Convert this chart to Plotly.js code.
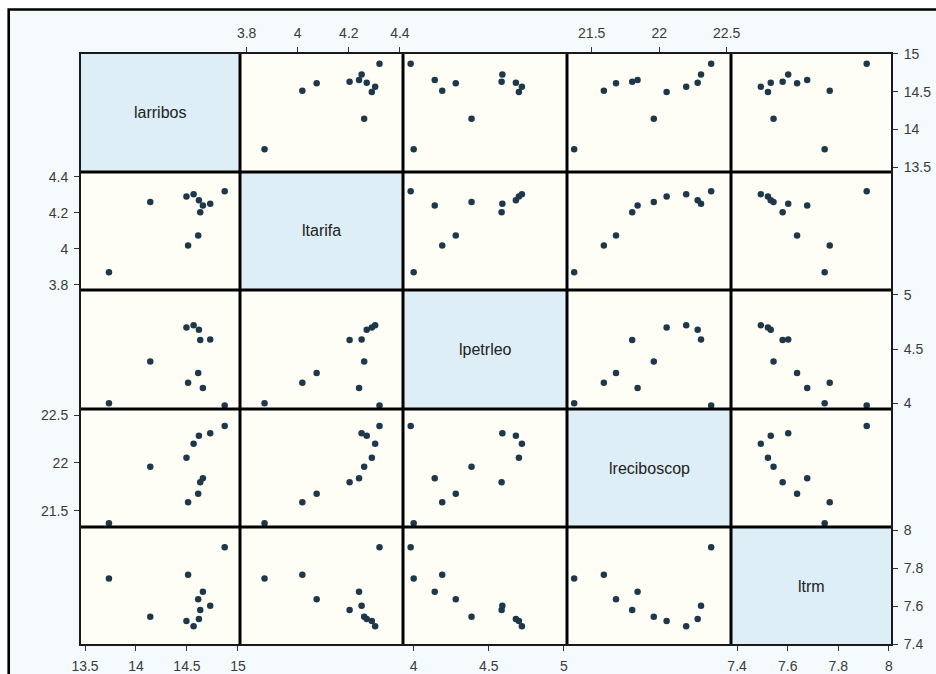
<!DOCTYPE html>
<html><head><meta charset="utf-8">
<script src="https://cdn.plot.ly/plotly-3.0.1.min.js"></script>
<style>html,body{margin:0;padding:0;background:#fff;} #chart{width:936px;height:674px;}</style>
</head><body><div id="chart"></div>
<script>
// Variable names (diagonal labels)
const varNames = ['larribos', 'ltarifa', 'lpetrleo', 'lreciboscop', 'ltrm'];

const larribos    = [13.735, 14.511, 14.610, 14.630, 14.656, 14.140, 14.495, 14.565, 14.617, 14.728, 14.870];
const ltarifa     = [3.870, 4.018, 4.074, 4.203, 4.240, 4.260, 4.290, 4.303, 4.270, 4.250, 4.320];
const lpetrleo    = [4.000, 4.190, 4.280, 4.585, 4.140, 4.385, 4.700, 4.720, 4.680, 4.590, 3.980];
const lreciboscop = [21.370, 21.590, 21.680, 21.800, 21.840, 21.960, 22.055, 22.200, 22.285, 22.310, 22.385];
const ltrm        = [7.746, 7.766, 7.637, 7.580, 7.677, 7.544, 7.522, 7.494, 7.533, 7.602, 7.912];

// Tick values per variable
const ticksLarribos = [13.5, 14, 14.5, 15];
const ticksLtarifa  = [3.8, 4, 4.2, 4.4];
const ticksLpetrleo = [4, 4.5, 5];
const ticksLrecib   = [21.5, 22, 22.5];
const ticksLtrm     = [7.4, 7.6, 7.8, 8];

const series = [larribos, ltarifa, lpetrleo, lreciboscop, ltrm];
const ticks = [ticksLarribos, ticksLtarifa, ticksLpetrleo, ticksLrecib, ticksLtrm];

// Axis ranges (x and y, per variable)
const xRanges = [[13.451, 15.02], [3.774, 4.412], [3.929, 5.02], [21.317, 22.532], [7.376, 8.012]];
const yRanges = [[13.434, 15.013], [3.772, 4.426], [3.947, 5.046], [21.332, 22.563], [7.395, 8.0185]];

const W = 936, H = 674;
const colEdges = [80, 240, 403, 567, 731, 892];
const rowEdges = [53, 172, 290, 409, 527, 645];

const tickFont = {family: 'Liberation Sans, Arial, sans-serif', size: 14, color: '#3a3a3a'};
const layout = {
  width: W, height: H, autosize: false,
  margin: {l: 0, r: 0, t: 0, b: 0, pad: 0},
  paper_bgcolor: '#ffffff',
  plot_bgcolor: 'rgba(0,0,0,0)',
  showlegend: false,
  shapes: [], annotations: []
};
const data = [];

// frame background + border
layout.shapes.push({type: 'rect', xref: 'paper', yref: 'paper', layer: 'below',
  x0: 8.7 / W, x1: 1.05, y0: -0.05, y1: 1 - 9.5 / H,
  fillcolor: '#f5fbfc', line: {color: '#000', width: 2.6}});

for (let i = 0; i < 5; i++) {
  for (let j = 0; j < 5; j++) {
    const k = i * 5 + j + 1;
    const xs = k === 1 ? '' : String(k);
    const xd = [colEdges[j] / W, colEdges[j + 1] / W];
    const yd = [1 - rowEdges[i + 1] / H, 1 - rowEdges[i] / H];
    const xa = {domain: xd, range: xRanges[j], anchor: 'y' + xs, showgrid: false, zeroline: false,
      showline: false, ticks: '', showticklabels: false, fixedrange: true};
    const ya = {domain: yd, range: yRanges[i], anchor: 'x' + xs, showgrid: false, zeroline: false,
      showline: false, ticks: '', showticklabels: false, fixedrange: true};
    const tickStyle = {ticks: 'outside', ticklen: 5, tickwidth: 1, tickcolor: '#333',
      showticklabels: true, tickmode: 'array', tickfont: tickFont, ticklabelstandoff: 3};
    if (i === 0 && (j === 1 || j === 3)) Object.assign(xa, tickStyle, {side: 'top', tickvals: ticks[j]});
    if (i === 4 && j % 2 === 0) Object.assign(xa, tickStyle, {side: 'bottom', tickvals: ticks[j]});
    if (j === 0 && (i === 1 || i === 3)) Object.assign(ya, tickStyle, {side: 'left', tickvals: ticks[i]});
    if (j === 4 && i % 2 === 0) Object.assign(ya, tickStyle, {side: 'right', tickvals: ticks[i]});
    layout['xaxis' + xs] = xa;
    layout['yaxis' + xs] = ya;

    layout.shapes.push({type: 'rect', xref: 'x' + xs + ' domain', yref: 'y' + xs + ' domain', layer: 'below',
      x0: 0, x1: 1, y0: 0, y1: 1, fillcolor: i === j ? '#ddeef6' : '#fffef6', line: {width: 0}});

    if (i === j) {
      data.push({type: 'scatter', mode: 'markers', x: [], y: [], xaxis: 'x' + xs, yaxis: 'y' + xs, hoverinfo: 'skip'});
      layout.annotations.push({text: varNames[i], xref: 'x' + xs + ' domain', yref: 'y' + xs + ' domain',
        x: 0.5, y: 0.5, showarrow: false, font: {family: 'Liberation Sans, Arial, sans-serif', size: 16, color: '#222'}});
    } else {
      data.push({type: 'scatter', mode: 'markers', x: series[j], y: series[i], xaxis: 'x' + xs, yaxis: 'y' + xs,
        marker: {size: 6.5, color: '#1e384a'}, cliponaxis: true});
    }
  }
}

// grid lines
for (let j = 1; j < 5; j++) {
  layout.shapes.push({type: 'line', xref: 'paper', yref: 'paper', layer: 'above',
    x0: colEdges[j] / W, x1: colEdges[j] / W, y0: 1 - rowEdges[5] / H, y1: 1 - rowEdges[0] / H,
    line: {color: '#000', width: 3}});
}
for (let i = 1; i < 5; i++) {
  layout.shapes.push({type: 'line', xref: 'paper', yref: 'paper', layer: 'above',
    x0: colEdges[0] / W, x1: colEdges[5] / W, y0: 1 - rowEdges[i] / H, y1: 1 - rowEdges[i] / H,
    line: {color: '#000', width: 3}});
}
layout.shapes.push({type: 'rect', xref: 'paper', yref: 'paper', layer: 'above',
  x0: colEdges[0] / W, x1: colEdges[5] / W, y0: 1 - rowEdges[5] / H, y1: 1 - rowEdges[0] / H,
  line: {color: '#1a1a1a', width: 2}, fillcolor: 'rgba(0,0,0,0)'});

Plotly.newPlot('chart', data, layout, {displayModeBar: false, staticPlot: true});
</script>
</body></html>
